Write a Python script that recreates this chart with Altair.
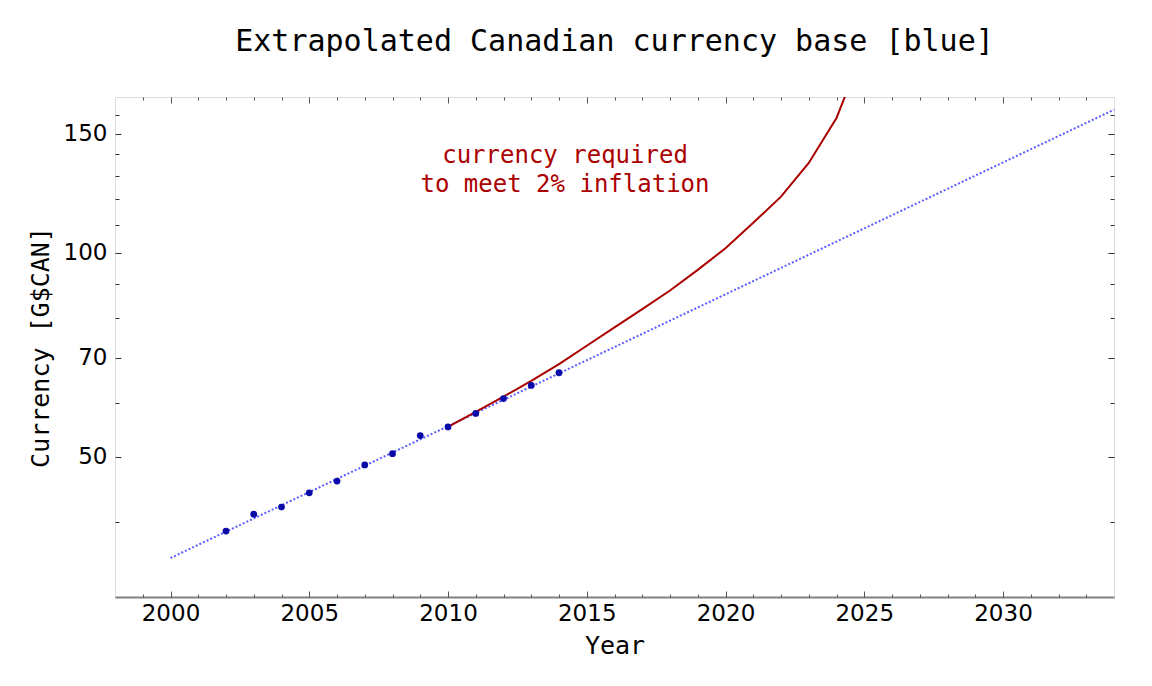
import altair as alt
import pandas as pd

# ---- data ----
years = list(range(2002, 2015))
currency = [38.8, 41.1, 42.1, 44.2, 46.0, 48.6, 50.5, 53.7, 55.3, 57.9, 60.9, 63.7, 66.5]

trend_years = [2000, 2034]
trend_values = [35.4, 162.8]

req_years = list(range(2010, 2026))
req_values = [55.3, 58.2, 61.3, 64.7, 68.5, 72.9, 77.6, 82.6, 88.0, 94.4,
              101.6, 110.8, 121.1, 135.8, 158.3, 201.0]

x_major = [2000, 2005, 2010, 2015, 2020, 2025, 2030]
x_all = list(range(1999, 2034))
y_major = [50, 70, 100, 150]
y_all = [40, 50, 60, 70, 80, 90, 100, 110, 120, 130, 140, 150, 160]

note_lines = ["currency required", "to meet 2% inflation"]
title_text = "Extrapolated Canadian currency base [blue]"

W, H = 999, 500
MONO = "DejaVu Sans Mono"
SANS = "DejaVu Sans"

pts_df = pd.DataFrame({"year": years, "value": currency})
trend_df = pd.DataFrame({"year": trend_years, "value": trend_values})
req_df = pd.DataFrame({"year": req_years, "value": req_values})

xs = alt.Scale(domain=[1998, 2034], nice=False, zero=False)
ys = alt.Scale(type="log", domain=[31, 170], nice=False)

x_major_test = "datum.value % 5 === 0"
y_major_test = "indexof([50,70,100,150], datum.value) >= 0"

trend = alt.Chart(trend_df).mark_line(
    color="#5c5cff", strokeDash=[2, 2], strokeWidth=2
).encode(
    x=alt.X("year:Q", scale=xs, axis=alt.Axis(
        orient="bottom", values=x_major, ticks=False, tickSize=0, domain=True,
        domainColor="#808080", domainWidth=2, grid=False, format="d",
        labelFont=SANS, labelFontSize=23, labelPadding=5, labelColor="black",
        title="Year", titleFont=MONO, titleFontSize=25, titleFontWeight="normal",
        titlePadding=8, titleColor="black")),
    y=alt.Y("value:Q", scale=ys, axis=alt.Axis(
        orient="left", values=y_major, ticks=False, tickSize=0, domain=False,
        grid=False, format="d",
        labelFont=SANS, labelFontSize=23, labelPadding=8, labelColor="black",
        title="Currency [G$CAN]", titleFont=MONO, titleFontSize=25,
        titleFontWeight="normal", titlePadding=10, titleColor="black")),
)

req = alt.Chart(req_df).mark_line(color="#aa0000", strokeWidth=2, clip=True).encode(
    x=alt.X("year:Q", scale=xs, axis=alt.Axis(
        orient="top", offset=-H, values=x_all, labels=False, domain=False,
        grid=False, title=None, tickColor="#555555", tickWidth=1,
        tickSize={"condition": {"test": x_major_test, "value": 6}, "value": 3})),
    y=alt.Y("value:Q", scale=ys, axis=alt.Axis(
        orient="right", offset=-W, values=y_all, labels=False, domain=False,
        grid=False, title=None, tickColor="#333333", tickWidth=1,
        tickSize={"condition": {"test": y_major_test, "value": 6}, "value": 4})),
)

pts = alt.Chart(pts_df).mark_circle(color="#0a0aa8", size=46, opacity=1).encode(
    x=alt.X("year:Q", scale=xs, axis=alt.Axis(
        orient="bottom", offset=-H, values=x_all, labels=False, domain=False,
        grid=False, title=None, tickColor="#555555", tickWidth=1,
        tickSize={"condition": {"test": x_major_test, "value": 6}, "value": 3})),
    y=alt.Y("value:Q", scale=ys, axis=alt.Axis(
        orient="left", offset=-W, values=y_all, labels=False, domain=False,
        grid=False, title=None, tickColor="#333333", tickWidth=1,
        tickSize={"condition": {"test": y_major_test, "value": 6}, "value": 4})),
)

note = alt.Chart(pd.DataFrame({"k": [0]})).mark_text(
    text=note_lines, font=MONO, fontSize=24, color="#aa0000",
    align="center", baseline="alphabetic", lineHeight=29
).encode(x=alt.value(450), y=alt.value(66))

chart = alt.layer(trend, req, pts, note).resolve_axis(
    x="independent", y="independent"
).properties(
    width=W, height=H,
    title=alt.TitleParams(title_text, font=MONO, fontSize=30, fontWeight="normal",
                          anchor="middle", offset=40, color="black"),
    padding={"left": 107, "top": 89, "right": 30, "bottom": 80},
    autosize=alt.AutoSizeParams(type="none"),
).configure_view(stroke="black", strokeWidth=1).configure(background="white")

chart.save("out.html", embed_options={"renderer": "svg", "actions": False})
